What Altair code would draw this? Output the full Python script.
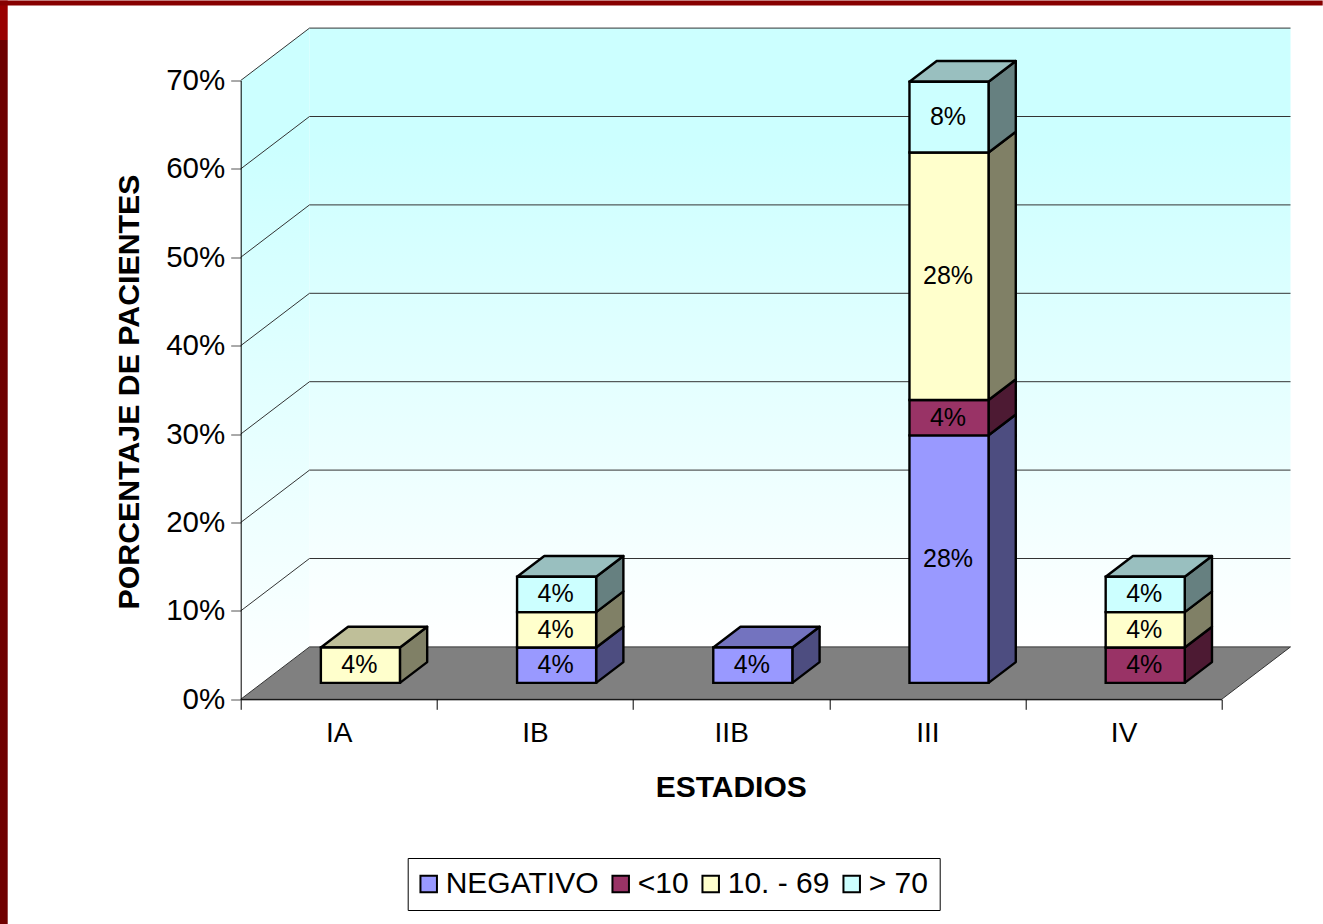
import altair as alt
import pandas as pd

# Chart values: percentage of patients per stage and result group
stages = ["IA", "IB", "IIB", "III", "IV"]
series = ["NEGATIVO", "<10", "10. - 69", "> 70"]
negativo = [0, 4, 4, 28, 0]
menor10 = [0, 0, 0, 4, 4]
medio = [4, 4, 0, 28, 4]
mayor70 = [0, 4, 0, 8, 4]
values_by_series = [negativo, menor10, medio, mayor70]

front_colors = ["#9999FF", "#993366", "#FFFFCC", "#CCFFFF"]
side_colors = ["#4D4D80", "#4D1A33", "#808066", "#668080"]
top_colors = ["#7373BF", "#73264D", "#BFBF99", "#99BFBF"]

FONT = "Liberation Sans"
W, H = 981.0, 618.8          # front plane of the axes, in pixels
DEPTH_X, DEPTH_Y = 68.8, 52.4  # shift from the front plane to the back wall
Y_MAX = 70.0
X_MAX = 5.0
BAR_WIDTH = 0.403
Z_FRONT, Z_BACK = 0.314, 0.71
EDGE = 2.4


def project(x, y, z):
    """Oblique projection of a (category, percent, depth) point into data units."""
    return x + z * DEPTH_X * X_MAX / W, y + z * DEPTH_Y * Y_MAX / H


# Walls and floor of the box
back_x0, back_y0 = project(0, 0, 1)
back_x1, back_y1 = project(X_MAX, Y_MAX, 1)
back_wall = pd.DataFrame([{"x": back_x0, "x2": back_x1, "y": back_y0, "y2": back_y1}])
left_wall = pd.DataFrame([
    {"x": 0.0, "y": 0.0, "y2": Y_MAX},
    {"x": back_x0, "y": back_y0, "y2": back_y1},
])
floor = pd.DataFrame([
    {"y": 0.0, "x": 0.0, "x2": X_MAX},
    {"y": back_y0, "x": back_x0, "x2": back_x0 + X_MAX},
])

grid_rows = []
for level in range(10, 80, 10):
    bx, by = project(0, level, 1)
    grid_rows.append({"level": level, "step": 0, "x": 0.0, "y": float(level)})
    grid_rows.append({"level": level, "step": 1, "x": bx, "y": by})
    grid_rows.append({"level": level, "step": 2, "x": bx + X_MAX, "y": by})
grid = pd.DataFrame(grid_rows)

# Stacked boxes: one front, one side per segment, one top per stack
fronts, sides, tops = [], [], []
for i, stage in enumerate(stages):
    base = 0.0
    left = i + 0.5 - BAR_WIDTH / 2
    right = left + BAR_WIDTH
    last = None
    for s, name in enumerate(series):
        v = values_by_series[s][i]
        if not v:
            continue
        fx0, fy0 = project(left, base, Z_FRONT)
        fx1, fy1 = project(right, base + v, Z_FRONT)
        fronts.append({"series": name, "x": fx0, "x2": fx1, "y": fy0, "y2": fy1,
                       "cx": (fx0 + fx1) / 2, "cy": (fy0 + fy1) / 2, "value": v})
        face = f"{stage}-{s}"
        bx, by = project(right, base, Z_BACK)
        bx2, by2 = project(right, base + v, Z_BACK)
        sides.append({"face": face, "fill": side_colors[s], "x": fx1, "y": fy0, "y2": fy1})
        sides.append({"face": face, "fill": side_colors[s], "x": bx, "y": by, "y2": by2})
        base += v
        last = s
    tx0, ty0 = project(left, base, Z_FRONT)
    tx1, _ = project(right, base, Z_FRONT)
    tx2, ty2 = project(left, base, Z_BACK)
    tx3, _ = project(right, base, Z_BACK)
    tops.append({"face": stage, "fill": top_colors[last], "y": ty0, "x": tx0, "x2": tx1})
    tops.append({"face": stage, "fill": top_colors[last], "y": ty2, "x": tx2, "x2": tx3})

fronts = pd.DataFrame(fronts)
sides = pd.DataFrame(sides)
tops = pd.DataFrame(tops)

x_scale = alt.Scale(domain=[0, X_MAX], nice=False, zero=False)
y_scale = alt.Scale(domain=[0, Y_MAX], nice=False, zero=False)

# Category ticks fall on the integers, category names on the half steps
tick_values = [k / 2 for k in range(0, 11)]
label_list = "[" + ",".join(f"'{s}'" for s in stages) + "]"
x_axis = alt.Axis(
    values=tick_values,
    labelExpr=f"datum.value % 1 == 0 ? '' : {label_list}[floor(datum.value)]",
    tickOpacity={"condition": {"test": "datum.value % 1 == 0", "value": 1}, "value": 0},
    tickSize=10,
    tickColor="#000000",
    domainColor="#000000",
    labelFont=FONT,
    labelFontSize=28,
    labelColor="#000000",
    labelPadding=10,
    labelOverlap=False,
    labelFlush=False,
    labelBound=False,
    grid=False,
    title="ESTADIOS",
    titleFont=FONT,
    titleFontSize=30,
    titleFontWeight="bold",
    titleColor="#000000",
    titleX=490,
    titleY=88,
    titleBaseline="middle",
    zindex=1,
)
y_axis = alt.Axis(
    values=list(range(0, 80, 10)),
    labelExpr="datum.value + '%'",
    tickSize=10,
    tickColor="#555555",
    domainColor="#000000",
    labelFont=FONT,
    labelFontSize=29.5,
    labelColor="#000000",
    labelPadding=6,
    labelOverlap=False,
    labelFlush=False,
    labelBound=False,
    grid=False,
    title="PORCENTAJE DE PACIENTES",
    titleFont=FONT,
    titleFontSize=30.3,
    titleFontWeight="bold",
    titleColor="#000000",
    titleAngle=270,
    titleX=-111,
    titleY=311,
    titleBaseline="middle",
    zindex=1,
)
X = alt.X("x:Q", scale=x_scale, axis=x_axis)
Y = alt.Y("y:Q", scale=y_scale, axis=y_axis, stack=None)

sky = alt.Gradient(
    gradient="linear",
    stops=[
        alt.GradientStop(color="#CCFFFF", offset=0),
        alt.GradientStop(color="#CCFFFF", offset=0.18),
        alt.GradientStop(color="#FFFFFF", offset=1),
    ],
    x1=0, x2=0, y1=0, y2=1,
)
back_layer = alt.Chart(back_wall).mark_rect(fill=sky).encode(x=X, x2="x2:Q", y=Y, y2="y2:Q")
left_layer = alt.Chart(left_wall).mark_area(fill=sky).encode(x=X, y=Y, y2="y2:Q")
floor_layer = (
    alt.Chart(floor)
    .mark_area(orient="horizontal", color="#808080", stroke="#333333", strokeWidth=1)
    .encode(x=X, x2="x2:Q", y=Y)
)
grid_layer = (
    alt.Chart(grid)
    .mark_line(color="#333333", strokeWidth=1)
    .encode(x=X, y=Y, detail="level:N", order="step:Q")
)

side_layer = (
    alt.Chart(sides)
    .mark_area(stroke="#000000", strokeWidth=EDGE, strokeJoin="round")
    .encode(x=X, y=Y, y2="y2:Q", detail="face:N",
            color=alt.Color("fill:N", scale=None, legend=None))
)
top_layer = (
    alt.Chart(tops)
    .mark_area(orient="horizontal", stroke="#000000", strokeWidth=EDGE, strokeJoin="round")
    .encode(x=X, x2="x2:Q", y=Y, detail="face:N",
            color=alt.Color("fill:N", scale=None, legend=None))
)
front_layer = (
    alt.Chart(fronts)
    .mark_rect(stroke="#000000", strokeWidth=EDGE)
    .encode(
        x=X, x2="x2:Q", y=Y, y2="y2:Q",
        color=alt.Color(
            "series:N",
            scale=alt.Scale(domain=series, range=front_colors),
            sort=series,
            legend=alt.Legend(
                title=None,
                orient="none",
                legendX=167,
                legendY=777.5,
                direction="horizontal",
                columns=4,
                columnPadding=9,
                symbolType="square",
                symbolSize=272,
                symbolOffset=-5,
                symbolStrokeColor="#000000",
                symbolStrokeWidth=2,
                symbolOpacity=1,
                labelFont=FONT,
                labelFontSize=30,
                labelColor="#000000",
                labelLimit=400,
                labelOffset=2,
                padding=11,
                fillColor="#FFFFFF",
                strokeColor="#000000",
            ),
        ),
    )
)
label_layer = (
    alt.Chart(fronts)
    .transform_calculate(label="datum.value + '%'")
    .mark_text(font=FONT, fontSize=25, color="#000000", align="center", baseline="middle", dx=-1)
    .encode(x=alt.X("cx:Q", scale=x_scale, axis=x_axis),
            y=alt.Y("cy:Q", scale=y_scale, axis=y_axis),
            text="label:N")
)

# Slide frame: dark red strips along the top and left edges
frame_df = pd.DataFrame({"k": [0]})
maroon = alt.Gradient(
    gradient="linear",
    stops=[
        alt.GradientStop(color="#990000", offset=0),
        alt.GradientStop(color="#990000", offset=0.043),
        alt.GradientStop(color="#6E0000", offset=0.0431),
        alt.GradientStop(color="#700000", offset=1),
    ],
    x1=0, x2=0, y1=0, y2=1,
)
left_strip = alt.Chart(frame_df).mark_rect(fill=maroon).encode(
    x=alt.value(-241), x2=alt.value(-233), y=alt.value(-80), y2=alt.value(844))
top_strip = alt.Chart(frame_df).mark_rect(color="#870000").encode(
    x=alt.value(-241), x2=alt.value(1082), y=alt.value(-80), y2=alt.value(-75))

chart = (
    alt.layer(
        left_strip, top_strip,
        back_layer, left_layer, floor_layer, grid_layer,
        side_layer, top_layer, front_layer, label_layer,
    )
    .resolve_scale(color="independent")
    .properties(
        width=W,
        height=H,
        autosize=alt.AutoSizeParams(type="none"),
        padding={"left": 240.7, "top": 80.5, "right": 1323 - 240.7 - W, "bottom": 924 - 80.5 - H},
        background="#FFFFFF",
    )
    .configure_view(stroke=None)
)

chart.save("out.html", embed_options={"renderer": "svg", "actions": False})
